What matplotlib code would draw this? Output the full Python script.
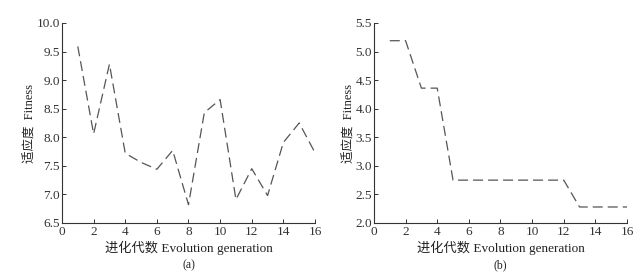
import numpy as np
from matplotlib import pyplot as plt

plt.rcParams['font.family'] = ['Liberation Serif', 'Noto Sans CJK SC']

gen = np.arange(1, 17)
fitness_a = [9.59, 8.06, 9.28, 7.72, 7.56, 7.44, 7.77, 6.82,
             8.43, 8.66, 6.91, 7.45, 6.98, 7.91, 8.25, 7.73]
fitness_b = [5.19, 5.19, 4.36, 4.36, 2.75, 2.75, 2.75, 2.75,
             2.75, 2.75, 2.75, 2.75, 2.28, 2.28, 2.28, 2.28]

xticks = np.arange(0, 17, 2)
yticks_a = np.arange(6.5, 10.01, 0.5)
yticks_b = np.arange(2.0, 5.51, 0.5)

axis_colour = "#333333"
line_colour = "#555555"


def style_axes(ax, yticks, letter):
    ax.set_xlim(0, 16)
    ax.set_ylim(yticks[0], yticks[-1])
    ax.set_xticks(xticks)
    ax.set_yticks(yticks)
    ax.set_yticklabels([f"{v:.1f}" for v in yticks])
    for side in ("top", "right"):
        ax.spines[side].set_visible(False)
    for side in ("left", "bottom"):
        ax.spines[side].set_color(axis_colour)
        ax.spines[side].set_linewidth(0.8)
    ax.tick_params(direction="in", length=3, width=0.7, colors=axis_colour,
                   labelsize=9.5)
    ax.tick_params(axis="x", pad=2.0)
    ax.tick_params(axis="y", pad=1.5)
    ax.set_xlabel("进化代数 Evolution generation", fontsize=9.5, labelpad=2,
                  color="#222222")
    ax.set_ylabel("适应度  Fitness", fontsize=9, labelpad=0, color="#222222")
    ax.text(0.5, -0.21, letter, transform=ax.transAxes, ha="center",
            va="center", fontsize=8.5, color="#222222")


fig = plt.figure(figsize=(6.43, 2.77), dpi=100)
ax1 = fig.add_axes([0.0964, 0.195, 0.3935, 0.722])
ax2 = fig.add_axes([0.5816, 0.195, 0.3935, 0.722])

ax1.plot(gen, fitness_a, color=line_colour, lw=0.9, dashes=(8, 4))
ax2.plot(gen, fitness_b, color=line_colour, lw=0.9, dashes=(8, 4))

style_axes(ax1, yticks_a, "(a)")
style_axes(ax2, yticks_b, "(b)")

fig.savefig("out.png", dpi=100)
